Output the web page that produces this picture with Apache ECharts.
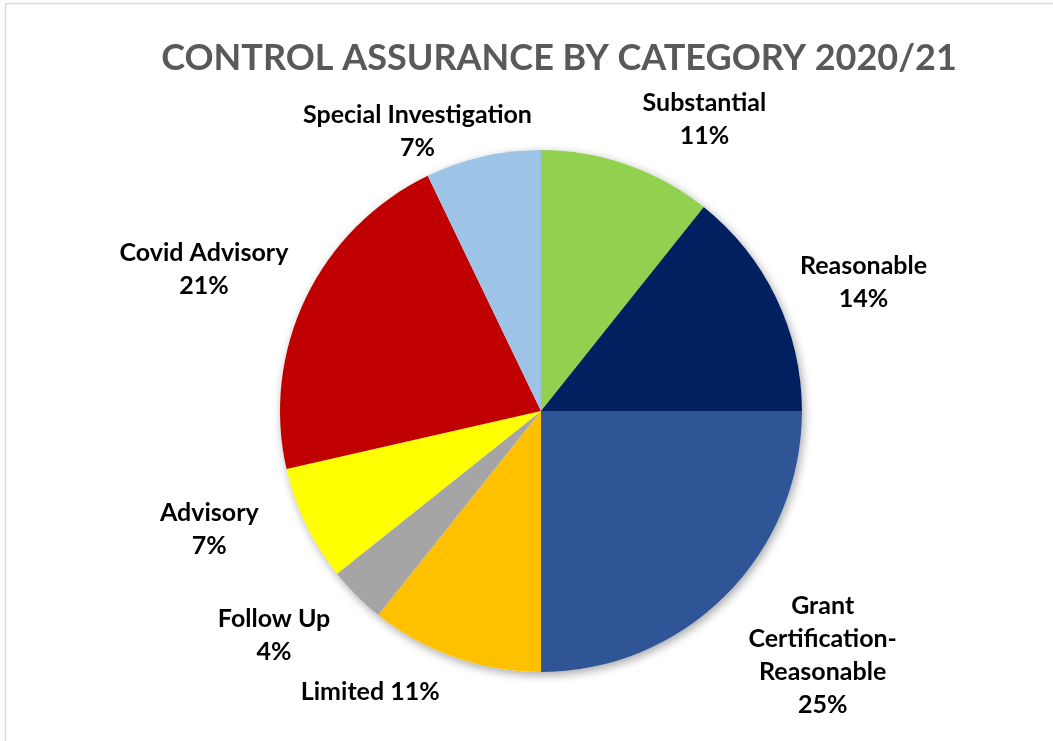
<!DOCTYPE html>
<html>
<head>
<meta charset="utf-8">
<script src="https://cdn.jsdelivr.net/npm/echarts@6/dist/echarts.min.js"></script>
<style>
  html, body { margin: 0; padding: 0; background: #fff; }
  #chart { width: 1053px; height: 741px; }
</style>
</head>
<body>
<div id="chart"></div>
<script>
// categories / counts (percentages of 28 reviews)
const categories = ['Substantial', 'Reasonable', 'Grant\nCertification-\nReasonable', 'Limited', 'Follow Up', 'Advisory', 'Covid Advisory', 'Special Investigation'];
const counts = [3, 4, 7, 3, 1, 2, 6, 2];
const colors = ['#92D050', '#002060', '#2F5597', '#FFC000', '#A5A5A5', '#FFFF00', '#C00000', '#9DC3E6'];
// label joins name and % on one line for these
const oneLine = ['Limited'];

// label placement tweaks: angle nudge (deg) off the slice middle, distance in pie radii
const labelTurn = [10, 4, -4, 12, 5, 6, -3, -11];
const labelDist = [1.28, 1.33, 1.43, 1.26, 1.335, 1.35, 1.40, 1.17];

const cx = 541, cy = 411, R = 261;
const total = counts.reduce((a, b) => a + b, 0);

// mid angle of each slice, clockwise from 12 o'clock
let cum = 0;
const midAngles = counts.map(v => {
  const a = 2 * Math.PI * (cum + v / 2) / total;
  cum += v;
  return a;
});

const chart = echarts.init(document.getElementById('chart'));

const option = {
  backgroundColor: '#fff',
  title: {
    text: 'CONTROL ASSURANCE BY CATEGORY 2020/21',
    left: 554, top: 35, textAlign: 'center',
    textStyle: { fontFamily: 'Lato', fontWeight: 'bold', fontSize: 36, color: '#595959' }
  },
  graphic: [{
    type: 'rect', silent: true,
    shape: { x: 5.5, y: 3.5, width: 1060, height: 760 },
    style: { fill: 'none', stroke: '#D9D9D9', lineWidth: 1.5 }
  }],
  series: [
    {
      // soft shadow behind the pie
      type: 'pie', silent: true, center: [cx, cy], radius: R,
      label: { show: false }, labelLine: { show: false },
      itemStyle: { color: '#fff', shadowBlur: 10, shadowOffsetX: 2, shadowOffsetY: 3, shadowColor: 'rgba(0,0,0,0.35)' },
      data: [1], animation: false, z: 1
    },
    {
      type: 'pie', center: [cx, cy], radius: R, startAngle: 90, clockwise: true,
      animation: false, z: 2,
      itemStyle: { borderWidth: 0 },
      label: {
        show: true, position: 'outside',
        fontFamily: 'Lato', fontWeight: 'bold', fontSize: 25, color: '#000',
        lineHeight: 33, align: 'center',
        formatter: p => {
          const pct = Math.round(p.value / total * 100) + '%';
          return oneLine.includes(p.name) ? p.name + ' ' + pct : p.name + '\n' + pct;
        }
      },
      labelLine: { show: false },
      labelLayout: p => {
        const i = p.dataIndex;
        const th = midAngles[i] + labelTurn[i] * Math.PI / 180;
        const t = R * labelDist[i];
        return { x: cx + Math.sin(th) * t, y: cy - Math.cos(th) * t, align: 'center', verticalAlign: 'middle' };
      },
      data: categories.map((c, i) => ({ name: c, value: counts[i], itemStyle: { color: colors[i] } }))
    }
  ]
};
chart.setOption(option);
</script>
</body>
</html>
